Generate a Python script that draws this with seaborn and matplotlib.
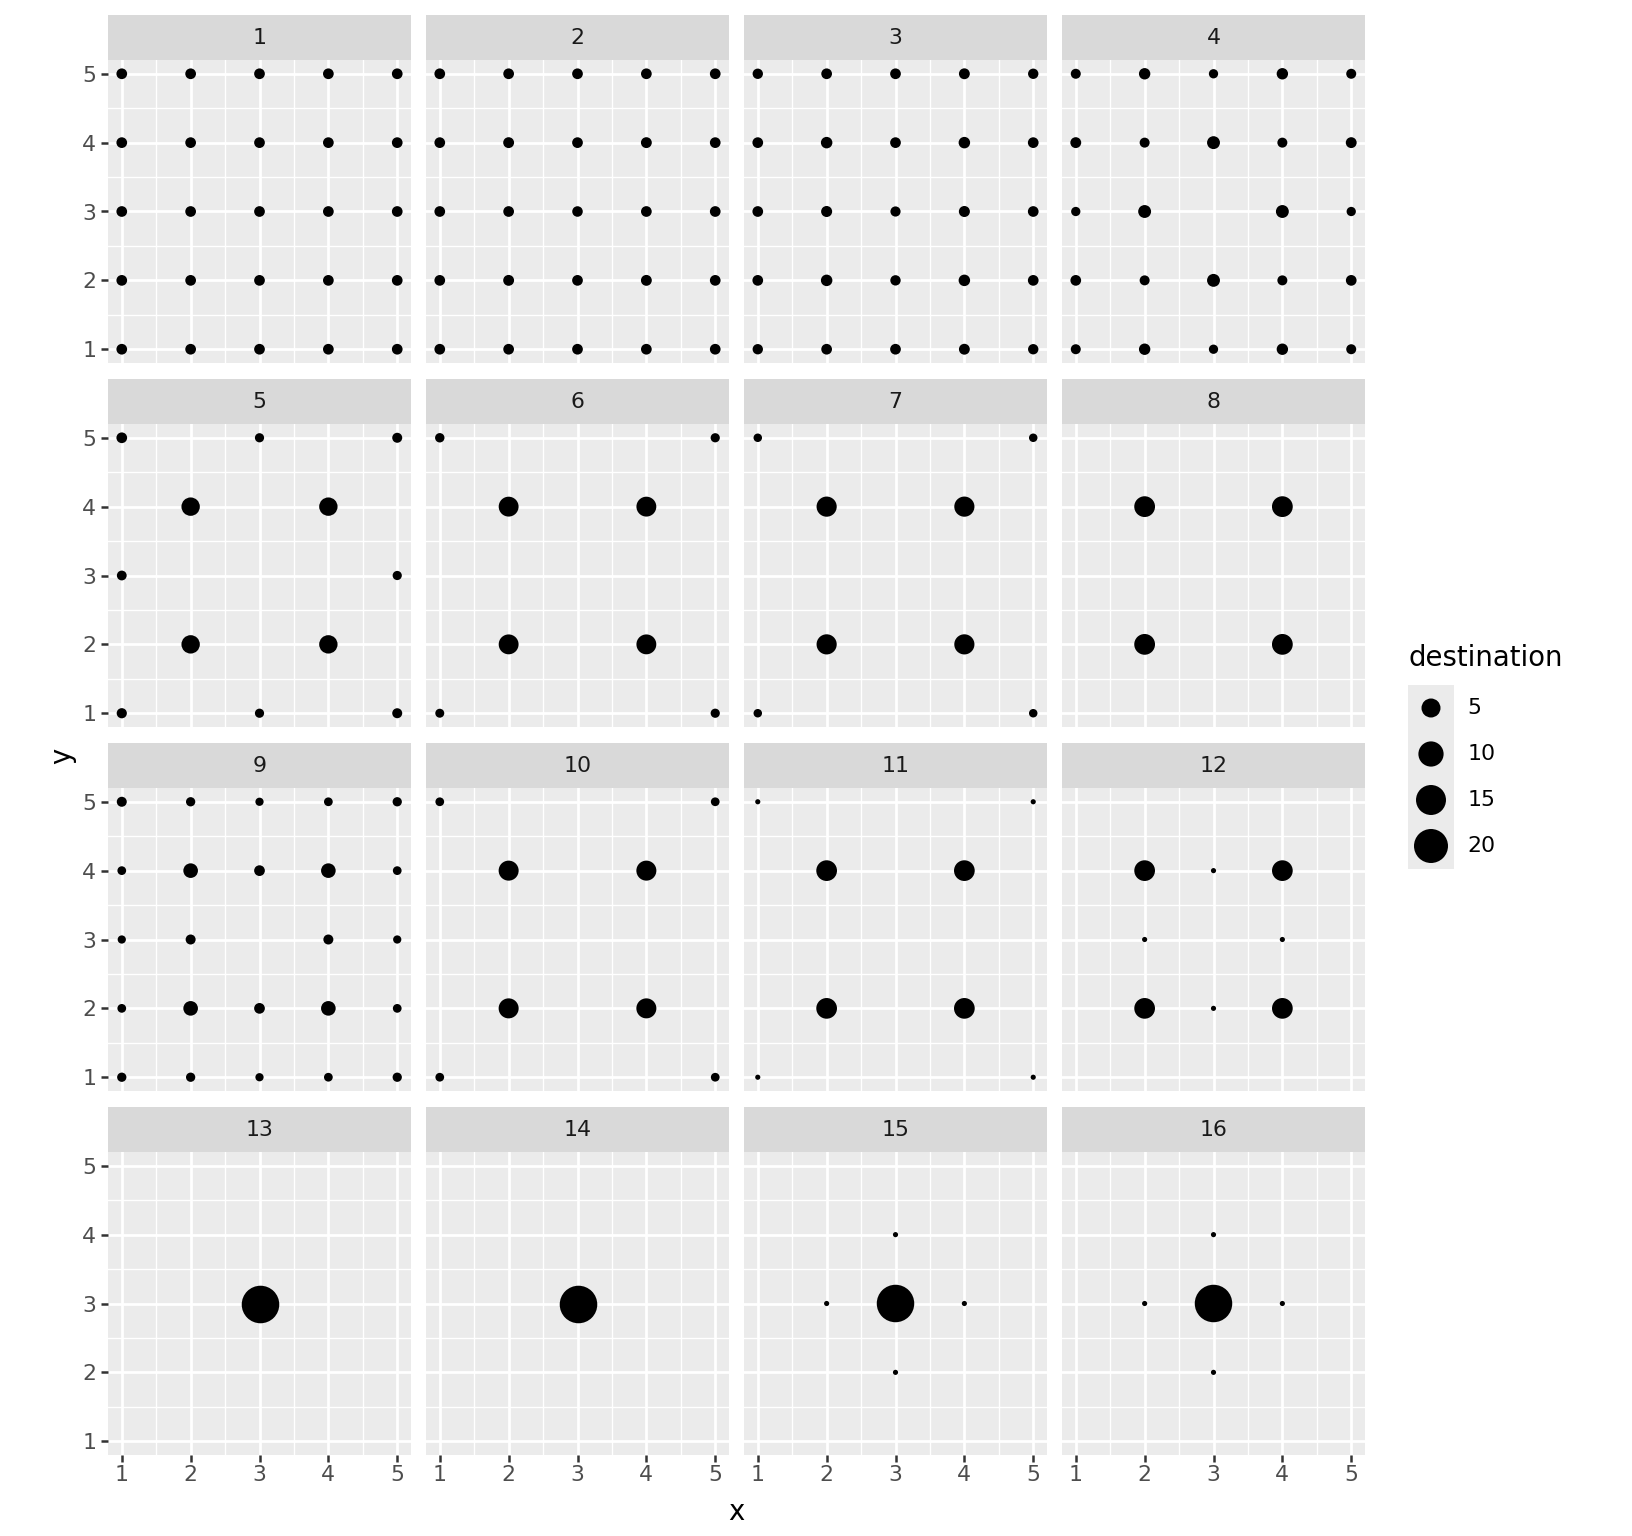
import numpy as np
import pandas as pd
import seaborn as sns
import matplotlib
matplotlib.use("Agg")
from matplotlib import pyplot as plt
from matplotlib.ticker import FixedLocator

nan = np.nan

# grid coordinates: rows are y = 5..1, columns are x = 1..5
x_cols = [1, 2, 3, 4, 5]
y_rows = [5, 4, 3, 2, 1]
panel_labels = [str(i) for i in range(1, 17)]

step_01 = [[1.0, 1.0, 1.0, 1.0, 1.0],
           [1.0, 1.0, 1.0, 1.0, 1.0],
           [1.0, 1.0, 1.0, 1.0, 1.0],
           [1.0, 1.0, 1.0, 1.0, 1.0],
           [1.0, 1.0, 1.0, 1.0, 1.0]]
step_02 = [[1.0, 1.0, 1.0, 1.0, 1.0],
           [1.0, 1.05, 1.0, 1.05, 1.0],
           [1.0, 1.0, 0.95, 1.0, 1.0],
           [1.0, 1.05, 1.0, 1.05, 1.0],
           [1.0, 1.0, 1.0, 1.0, 1.0]]
step_03 = [[0.9, 1.0, 1.0, 1.05, 0.9],
           [1.0, 1.25, 1.0, 1.25, 1.0],
           [1.0, 1.1, 0.85, 1.1, 1.0],
           [1.0, 1.25, 0.9, 1.25, 1.0],
           [0.9, 1.0, 1.0, 1.05, 0.9]]
step_04 = [[0.8, 1.22, 0.62, 1.22, 0.8],
           [1.05, 0.8, 1.76, 0.8, 1.05],
           [0.62, 1.76, nan, 1.76, 0.62],
           [1.0, 0.8, 1.76, 0.8, 1.0],
           [0.8, 1.22, 0.62, 1.22, 0.8]]
step_05 = [[1.0, nan, 0.6, nan, 0.8],
           [nan, 4.6, nan, 4.6, nan],
           [0.75, nan, nan, nan, 0.6],
           [nan, 4.6, nan, 4.6, nan],
           [0.85, nan, 0.6, nan, 0.8]]
step_06 = [[0.65, nan, nan, nan, 0.6],
           [nan, 5.6, nan, 5.6, nan],
           [nan, nan, nan, nan, nan],
           [nan, 5.6, nan, 5.6, nan],
           [0.55, nan, nan, nan, 0.6]]
step_07 = [[0.45, nan, nan, nan, 0.45],
           [nan, 5.8, nan, 5.8, nan],
           [nan, nan, nan, nan, nan],
           [nan, 5.8, nan, 5.8, nan],
           [0.45, nan, nan, nan, 0.45]]
step_08 = [[nan, nan, nan, nan, nan],
           [nan, 6.25, nan, 6.25, nan],
           [nan, nan, nan, nan, nan],
           [nan, 6.25, nan, 6.25, nan],
           [nan, nan, nan, nan, nan]]
step_09 = [[0.8, 0.62, 0.4, 0.5, 0.62],
           [0.5, 2.5, 1.0, 2.5, 0.5],
           [0.4, 0.8, nan, 0.8, 0.4],
           [0.5, 2.5, 1.0, 2.5, 0.5],
           [0.62, 0.62, 0.4, 0.5, 0.62]]
step_10 = [[0.5, nan, nan, nan, 0.5],
           [nan, 5.7, nan, 5.7, nan],
           [nan, nan, nan, nan, nan],
           [nan, 5.7, nan, 5.7, nan],
           [0.5, nan, nan, nan, 0.5]]
step_11 = [[0.03, nan, nan, nan, 0.03],
           [nan, 6.2, nan, 6.2, nan],
           [nan, nan, nan, nan, nan],
           [nan, 6.2, nan, 6.2, nan],
           [0.03, nan, nan, nan, 0.03]]
step_12 = [[nan, nan, nan, nan, nan],
           [nan, 6.2, 0.03, 6.2, nan],
           [nan, 0.03, nan, 0.03, nan],
           [nan, 6.2, 0.03, 6.2, nan],
           [nan, nan, nan, nan, nan]]
step_13 = [[nan, nan, nan, nan, nan],
           [nan, nan, nan, nan, nan],
           [nan, nan, 25.0, nan, nan],
           [nan, nan, nan, nan, nan],
           [nan, nan, nan, nan, nan]]
step_14 = [[nan, nan, nan, nan, nan],
           [nan, nan, nan, nan, nan],
           [nan, nan, 25.0, nan, nan],
           [nan, nan, nan, nan, nan],
           [nan, nan, nan, nan, nan]]
step_15 = [[nan, nan, nan, nan, nan],
           [nan, nan, 0.03, nan, nan],
           [nan, 0.03, 24.9, 0.03, nan],
           [nan, nan, 0.03, nan, nan],
           [nan, nan, nan, nan, nan]]
step_16 = [[nan, nan, nan, nan, nan],
           [nan, nan, 0.03, nan, nan],
           [nan, 0.03, 24.9, 0.03, nan],
           [nan, nan, 0.03, nan, nan],
           [nan, nan, nan, nan, nan]]

steps = [step_01, step_02, step_03, step_04, step_05, step_06, step_07, step_08,
         step_09, step_10, step_11, step_12, step_13, step_14, step_15, step_16]

legend_breaks = [5, 10, 15, 20]
axis_ticks = [1, 2, 3, 4, 5]

def marker_area(v):
	# ggplot style area scale: diameter = stroke + k*sqrt(value), in points
	return (2.88 + 4.83 * np.sqrt(v)) ** 2

# long table, one row per point
rows = []
for label, grid in zip(panel_labels, steps):
	for yi, yv in enumerate(y_rows):
		for xi, xv in enumerate(x_cols):
			rows.append((label, xv, yv, grid[yi][xi]))
df = pd.DataFrame(rows, columns=["panel", "x", "y", "destination"]).dropna()
df["area"] = marker_area(df["destination"])

#identity mapping of the precomputed marker areas
size_lim = (marker_area(0.0), marker_area(25.0))

W, H = 1632, 1536
DPI = 100
fig = plt.figure(figsize=(W / DPI, H / DPI), dpi=DPI)
plt.rcParams['font.family'] = ['DejaVu Sans']

def fx(px):
	return px / W

def fy(px):
	return 1 - px / H

panel_w = 303
panel_h = 303
strip_h = 45

for i, label in enumerate(panel_labels):
	r, c = divmod(i, 4)
	left = 108 + 318 * c
	top = 60 + 364 * r

	ax = fig.add_axes([fx(left), fy(top + panel_h), panel_w / W, panel_h / H])
	ax.set_facecolor("#EBEBEB")
	sub = df[df["panel"] == label]
	sns.scatterplot(data=sub, x="x", y="y", size="area", sizes=size_lim,
					size_norm=size_lim, color="black", linewidth=0,
					legend=False, ax=ax, zorder=3)
	ax.set_xlim(0.8, 5.2)
	ax.set_ylim(0.8, 5.2)
	ax.xaxis.set_major_locator(FixedLocator(axis_ticks))
	ax.yaxis.set_major_locator(FixedLocator(axis_ticks))
	ax.xaxis.set_minor_locator(FixedLocator([1.5, 2.5, 3.5, 4.5]))
	ax.yaxis.set_minor_locator(FixedLocator([1.5, 2.5, 3.5, 4.5]))
	ax.grid(which="major", color="white", linewidth=2.0)
	ax.grid(which="minor", color="white", linewidth=1.0)
	ax.set_axisbelow(True)
	for s in ax.spines.values():
		s.set_visible(False)
	ax.set_xlabel("")
	ax.set_ylabel("")
	ax.tick_params(which="minor", length=0)
	ax.tick_params(which="major", length=5, width=1.8, color="#333333",
				   labelsize=15.8, labelcolor="#4D4D4D")
	ax.tick_params(axis="x", pad=2.5)
	ax.tick_params(axis="y", pad=3.5)
	ax.set_xticklabels([str(t) for t in axis_ticks])
	ax.set_yticklabels([str(t) for t in axis_ticks])
	if r != 3:
		ax.tick_params(axis="x", bottom=False, labelbottom=False)
	if c != 0:
		ax.tick_params(axis="y", left=False, labelleft=False)

	# facet strip
	sax = fig.add_axes([fx(left), fy(top), panel_w / W, strip_h / H])
	sax.set_facecolor("#D9D9D9")
	sax.set_xticks([])
	sax.set_yticks([])
	for s in sax.spines.values():
		s.set_visible(False)
	sax.text(0.5, 0.5, label, ha="center", va="center", fontsize=15.8,
			 color="#1A1A1A", transform=sax.transAxes)

fig.text(fx(736), fy(1512), "x", ha="center", va="center", fontsize=19.8)
fig.text(fx(62), fy(756), "y", ha="center", va="center", fontsize=19.8, rotation=90)

# legend
fig.text(fx(1408), fy(658), "destination", ha="left", va="center", fontsize=19.8)
lax = fig.add_axes([fx(1408), fy(869), 46 / W, 184 / H])
lax.set_facecolor("#EBEBEB")
leg_df = pd.DataFrame({"x": [0.5] * len(legend_breaks),
					   "y": list(range(len(legend_breaks))),
					   "destination": legend_breaks})
leg_df["area"] = marker_area(leg_df["destination"])
sns.scatterplot(data=leg_df, x="x", y="y", size="area", sizes=size_lim,
				size_norm=size_lim, color="black", linewidth=0,
				legend=False, ax=lax)
lax.set_xlim(0, 1)
lax.set_ylim(len(legend_breaks) - 0.5, -0.5)
lax.set_xticks([])
lax.set_yticks([])
lax.set_xlabel("")
lax.set_ylabel("")
for s in lax.spines.values():
	s.set_visible(False)
for i, b in enumerate(legend_breaks):
	lax.text(1.3, i, str(b), ha="left", va="center", fontsize=15.8, clip_on=False)

plt.savefig("out.png", dpi=DPI)
